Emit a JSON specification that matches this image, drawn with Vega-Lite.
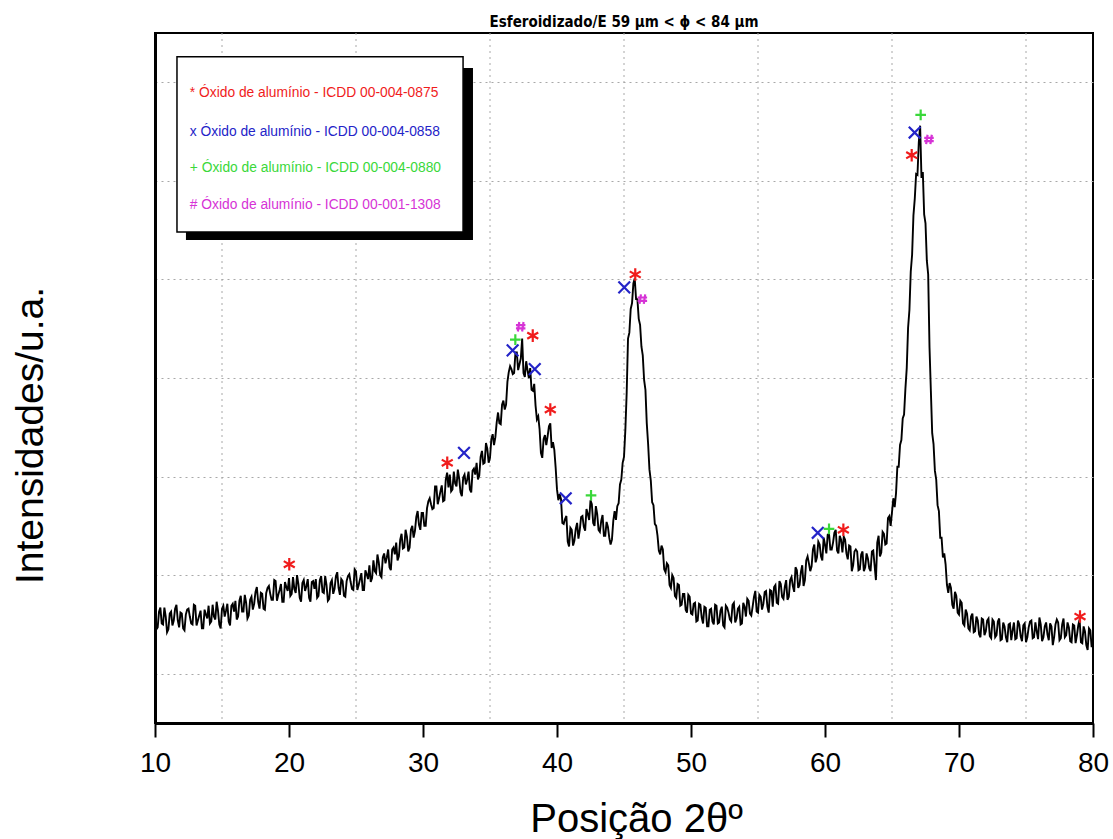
{
  "$schema": "https://vega.github.io/schema/vega-lite/v6.json",
  "width": 938,
  "height": 690,
  "autosize": {"type": "none"},
  "padding": {"left": 155, "top": 33, "right": 20, "bottom": 116},
  "background": "white",
  "config": {
    "view": {"stroke": "black", "strokeWidth": 2},
    "font": "Liberation Sans"
  },
  "title": {
    "text": "Esferoidizado/E 59 µm < ϕ < 84 µm",
    "fontSize": 15,
    "fontWeight": "bold",
    "font": "Liberation Sans Narrow, Arial Narrow, DejaVu Sans Condensed, sans-serif",
    "color": "black",
    "anchor": "middle",
    "offset": 3
  },
  "datasets": {
    "xgrid": [{"g":15},{"g":25},{"g":35},{"g":45},{"g":55},{"g":65},{"g":75}],
    "xrd": [
      {"x":10.0,"y":164},{"x":10.2,"y":147},{"x":10.4,"y":167},{"x":10.6,"y":150},{"x":10.8,"y":158},{"x":11.0,"y":145},{"x":11.2,"y":163},{"x":11.4,"y":154},{"x":11.6,"y":170},{"x":11.8,"y":147},
      {"x":12.0,"y":161},{"x":12.2,"y":144},{"x":12.4,"y":165},{"x":12.6,"y":158},{"x":12.8,"y":150},{"x":13.0,"y":169},{"x":13.2,"y":154},{"x":13.4,"y":164},{"x":13.6,"y":146},{"x":13.8,"y":160},
      {"x":14.0,"y":169},{"x":14.2,"y":153},{"x":14.4,"y":158},{"x":14.6,"y":173},{"x":14.8,"y":150},{"x":15.0,"y":166},{"x":15.2,"y":158},{"x":15.4,"y":171},{"x":15.6,"y":149},{"x":15.8,"y":171},
      {"x":16.0,"y":174},{"x":16.2,"y":158},{"x":16.4,"y":179},{"x":16.6,"y":163},{"x":16.8,"y":172},{"x":17.0,"y":159},{"x":17.2,"y":178},{"x":17.4,"y":171},{"x":17.6,"y":188},{"x":17.8,"y":166},
      {"x":18.0,"y":181},{"x":18.2,"y":165},{"x":18.4,"y":187},{"x":18.6,"y":181},{"x":18.8,"y":175},{"x":19.0,"y":194},{"x":19.2,"y":180},{"x":19.4,"y":191},{"x":19.6,"y":173},{"x":19.8,"y":188},
      {"x":20.0,"y":197},{"x":20.2,"y":181},{"x":20.4,"y":186},{"x":20.6,"y":200},{"x":20.8,"y":177},{"x":21.0,"y":192},{"x":21.2,"y":184},{"x":21.4,"y":196},{"x":21.6,"y":173},{"x":21.8,"y":194},
      {"x":22.0,"y":196},{"x":22.2,"y":179},{"x":22.4,"y":199},{"x":22.6,"y":182},{"x":22.8,"y":190},{"x":23.0,"y":176},{"x":23.2,"y":195},{"x":23.4,"y":186},{"x":23.6,"y":203},{"x":23.8,"y":180},
      {"x":24.0,"y":194},{"x":24.2,"y":178},{"x":24.4,"y":199},{"x":24.6,"y":193},{"x":24.8,"y":185},{"x":25.0,"y":204},{"x":25.2,"y":190},{"x":25.4,"y":202},{"x":25.6,"y":185},{"x":25.8,"y":201},
      {"x":26.0,"y":210},{"x":26.2,"y":197},{"x":26.4,"y":204},{"x":26.6,"y":221},{"x":26.8,"y":200},{"x":27.0,"y":218},{"x":27.2,"y":212},{"x":27.4,"y":226},{"x":27.6,"y":205},{"x":27.8,"y":228},
      {"x":28.0,"y":233},{"x":28.2,"y":219},{"x":28.4,"y":242},{"x":28.6,"y":228},{"x":28.8,"y":239},{"x":29.0,"y":228},{"x":29.2,"y":250},{"x":29.4,"y":245},{"x":29.6,"y":265},{"x":29.8,"y":246},
      {"x":30.0,"y":263},{"x":30.2,"y":250},{"x":30.4,"y":275},{"x":30.6,"y":272},{"x":30.8,"y":268},{"x":31.0,"y":290},{"x":31.2,"y":278},{"x":31.4,"y":291},{"x":31.6,"y":276},{"x":31.8,"y":304},
      {"x":32.0,"y":302},{"x":32.2,"y":287},{"x":32.4,"y":293},{"x":32.6,"y":307},{"x":32.8,"y":284},{"x":33.0,"y":299},{"x":33.2,"y":292},{"x":33.4,"y":305},{"x":33.6,"y":284},{"x":33.8,"y":308},
      {"x":34.0,"y":314},{"x":34.2,"y":301},{"x":34.4,"y":326},{"x":34.6,"y":314},{"x":34.8,"y":328},{"x":35.0,"y":319},{"x":35.2,"y":343},{"x":35.4,"y":340},{"x":35.6,"y":365},{"x":35.8,"y":353},
      {"x":36.0,"y":377},{"x":36.2,"y":373},{"x":36.4,"y":406},{"x":36.6,"y":409},{"x":36.8,"y":405},{"x":37.0,"y":426},{"x":37.2,"y":414},{"x":37.4,"y":440},{"x":37.6,"y":401},{"x":37.8,"y":408},
      {"x":38.0,"y":410},{"x":38.2,"y":387},{"x":38.4,"y":372},{"x":38.6,"y":361},{"x":38.8,"y":324},{"x":39.0,"y":338},{"x":39.2,"y":332},{"x":39.4,"y":351},{"x":39.6,"y":329},{"x":39.8,"y":327},
      {"x":40.0,"y":287},{"x":40.2,"y":282},{"x":40.4,"y":253},{"x":40.6,"y":257},{"x":40.8,"y":234},{"x":41.0,"y":248},{"x":41.2,"y":230},{"x":41.4,"y":247},{"x":41.6,"y":237},{"x":41.8,"y":259},
      {"x":42.0,"y":249},{"x":42.2,"y":267},{"x":42.4,"y":256},{"x":42.6,"y":272},{"x":42.8,"y":250},{"x":43.0,"y":262},{"x":43.2,"y":244},{"x":43.4,"y":261},{"x":43.6,"y":240},{"x":43.8,"y":249},
      {"x":44.0,"y":231},{"x":44.2,"y":255},{"x":44.4,"y":256},{"x":44.5,"y":270},{"x":44.6,"y":273},{"x":44.7,"y":292},{"x":44.8,"y":297},{"x":44.9,"y":314},{"x":45.0,"y":320},{"x":45.1,"y":347},
      {"x":45.2,"y":385},{"x":45.3,"y":440},{"x":45.4,"y":446},{"x":45.5,"y":470},{"x":45.6,"y":476},{"x":45.7,"y":496},{"x":45.8,"y":501},{"x":45.9,"y":480},{"x":46.0,"y":480},{"x":46.1,"y":460},
      {"x":46.2,"y":454},{"x":46.3,"y":432},{"x":46.4,"y":423},{"x":46.5,"y":398},{"x":46.6,"y":388},{"x":46.7,"y":354},{"x":46.8,"y":333},{"x":46.9,"y":307},{"x":47.0,"y":296},{"x":47.1,"y":274},
      {"x":47.2,"y":271},{"x":47.3,"y":252},{"x":47.4,"y":250},{"x":47.6,"y":225},{"x":47.8,"y":230},{"x":48.0,"y":206},{"x":48.2,"y":212},{"x":48.4,"y":190},{"x":48.6,"y":200},{"x":48.8,"y":179},
      {"x":49.0,"y":191},{"x":49.2,"y":169},{"x":49.4,"y":181},{"x":49.6,"y":165},{"x":49.8,"y":180},{"x":50.0,"y":161},{"x":50.2,"y":171},{"x":50.4,"y":153},{"x":50.6,"y":171},{"x":50.8,"y":157},
      {"x":51.0,"y":168},{"x":51.2,"y":148},{"x":51.4,"y":165},{"x":51.6,"y":153},{"x":51.8,"y":170},{"x":52.0,"y":151},{"x":52.2,"y":164},{"x":52.4,"y":149},{"x":52.6,"y":169},{"x":52.8,"y":162},
      {"x":53.0,"y":153},{"x":53.2,"y":172},{"x":53.4,"y":156},{"x":53.6,"y":168},{"x":53.8,"y":151},{"x":54.0,"y":168},{"x":54.2,"y":176},{"x":54.4,"y":161},{"x":54.6,"y":168},{"x":54.8,"y":184},
      {"x":55.0,"y":162},{"x":55.2,"y":178},{"x":55.4,"y":171},{"x":55.6,"y":184},{"x":55.8,"y":162},{"x":56.0,"y":184},{"x":56.2,"y":188},{"x":56.4,"y":172},{"x":56.6,"y":194},{"x":56.8,"y":178},
      {"x":57.0,"y":188},{"x":57.2,"y":175},{"x":57.4,"y":195},{"x":57.6,"y":189},{"x":57.8,"y":208},{"x":58.0,"y":187},{"x":58.2,"y":203},{"x":58.4,"y":189},{"x":58.6,"y":215},{"x":58.8,"y":212},
      {"x":59.0,"y":209},{"x":59.2,"y":231},{"x":59.4,"y":218},{"x":59.6,"y":231},{"x":59.8,"y":215},{"x":60.0,"y":231},{"x":60.2,"y":241},{"x":60.4,"y":226},{"x":60.6,"y":233},{"x":60.8,"y":246},
      {"x":61.0,"y":222},{"x":61.2,"y":236},{"x":61.4,"y":239},{"x":61.6,"y":222},{"x":61.8,"y":230},{"x":62.0,"y":204},{"x":62.2,"y":224},{"x":62.4,"y":224},{"x":62.6,"y":206},{"x":62.8,"y":224},
      {"x":63.0,"y":208},{"x":63.2,"y":217},{"x":63.4,"y":204},{"x":63.6,"y":225},{"x":63.8,"y":195},{"x":64.0,"y":240},{"x":64.2,"y":223},{"x":64.4,"y":242},{"x":64.6,"y":232},{"x":64.8,"y":260},
      {"x":65.0,"y":264},{"x":65.2,"y":269},{"x":65.4,"y":310},{"x":65.5,"y":310},{"x":65.6,"y":332},{"x":65.7,"y":337},{"x":65.8,"y":359},{"x":65.9,"y":363},{"x":66.0,"y":389},{"x":66.1,"y":410},
      {"x":66.2,"y":451},{"x":66.3,"y":469},{"x":66.4,"y":508},{"x":66.5,"y":525},{"x":66.6,"y":565},{"x":66.7,"y":582},{"x":66.8,"y":607},{"x":66.9,"y":606},{"x":67.0,"y":639},{"x":67.1,"y":656},
      {"x":67.2,"y":603},{"x":67.3,"y":609},{"x":67.4,"y":566},{"x":67.5,"y":557},{"x":67.6,"y":519},{"x":67.7,"y":505},{"x":67.8,"y":431},{"x":67.9,"y":387},{"x":68.0,"y":344},{"x":68.1,"y":333},
      {"x":68.2,"y":306},{"x":68.3,"y":297},{"x":68.4,"y":271},{"x":68.5,"y":265},{"x":68.6,"y":238},{"x":68.7,"y":238},{"x":68.8,"y":218},{"x":69.0,"y":211},{"x":69.2,"y":182},{"x":69.4,"y":187},
      {"x":69.6,"y":166},{"x":69.8,"y":179},{"x":70.0,"y":160},{"x":70.2,"y":172},{"x":70.4,"y":149},{"x":70.6,"y":161},{"x":70.8,"y":144},{"x":71.0,"y":161},{"x":71.2,"y":143},{"x":71.4,"y":154},
      {"x":71.6,"y":137},{"x":71.8,"y":155},{"x":72.0,"y":143},{"x":72.2,"y":156},{"x":72.4,"y":136},{"x":72.6,"y":153},{"x":72.8,"y":139},{"x":73.0,"y":156},{"x":73.2,"y":135},{"x":73.4,"y":148},
      {"x":73.6,"y":132},{"x":73.8,"y":151},{"x":74.0,"y":144},{"x":74.2,"y":135},{"x":74.4,"y":154},{"x":74.6,"y":138},{"x":74.8,"y":149},{"x":75.0,"y":132},{"x":75.2,"y":147},{"x":75.4,"y":154},
      {"x":75.6,"y":137},{"x":75.8,"y":143},{"x":76.0,"y":157},{"x":76.2,"y":133},{"x":76.4,"y":148},{"x":76.6,"y":140},{"x":76.8,"y":151},{"x":77.0,"y":129},{"x":77.2,"y":150},{"x":77.4,"y":152},
      {"x":77.6,"y":136},{"x":77.8,"y":156},{"x":78.0,"y":139},{"x":78.2,"y":147},{"x":78.4,"y":132},{"x":78.6,"y":149},{"x":78.8,"y":139},{"x":79.0,"y":155},{"x":79.2,"y":131},{"x":79.4,"y":143},
      {"x":79.6,"y":124},{"x":79.8,"y":144},{"x":80.0,"y":135},
      {"x":10.1,"y":145},{"x":10.3,"y":163},{"x":10.5,"y":151},{"x":10.7,"y":167},{"x":10.9,"y":142},{"x":11.1,"y":161},{"x":11.3,"y":149},{"x":11.5,"y":166},{"x":11.7,"y":154},{"x":11.9,"y":162},
      {"x":12.1,"y":146},{"x":12.3,"y":160},{"x":12.5,"y":166},{"x":12.7,"y":151},{"x":12.9,"y":170},{"x":13.1,"y":149},{"x":13.3,"y":159},{"x":13.5,"y":146},{"x":13.7,"y":165},{"x":13.9,"y":156},
      {"x":14.1,"y":151},{"x":14.3,"y":170},{"x":14.5,"y":155},{"x":14.7,"y":164},{"x":14.9,"y":146},{"x":15.1,"y":169},{"x":15.3,"y":164},{"x":15.5,"y":153},{"x":15.7,"y":169},{"x":15.9,"y":163},
      {"x":16.1,"y":155},{"x":16.3,"y":174},{"x":16.5,"y":163},{"x":16.7,"y":180},{"x":16.9,"y":156},{"x":17.1,"y":175},{"x":17.3,"y":165},{"x":17.5,"y":183},{"x":17.7,"y":173},{"x":17.9,"y":182},
      {"x":18.1,"y":166},{"x":18.3,"y":182},{"x":18.5,"y":189},{"x":18.7,"y":175},{"x":18.9,"y":195},{"x":19.1,"y":174},{"x":19.3,"y":185},{"x":19.5,"y":173},{"x":19.7,"y":193},{"x":19.9,"y":184},
      {"x":20.1,"y":179},{"x":20.3,"y":198},{"x":20.5,"y":182},{"x":20.7,"y":191},{"x":20.9,"y":173},{"x":21.1,"y":195},{"x":21.3,"y":189},{"x":21.5,"y":177},{"x":21.7,"y":193},{"x":21.9,"y":186},
      {"x":22.1,"y":177},{"x":22.3,"y":195},{"x":22.5,"y":183},{"x":22.7,"y":199},{"x":22.9,"y":174},{"x":23.1,"y":192},{"x":23.3,"y":181},{"x":23.5,"y":199},{"x":23.7,"y":187},{"x":23.9,"y":196},
      {"x":24.1,"y":179},{"x":24.3,"y":194},{"x":24.5,"y":201},{"x":24.7,"y":186},{"x":24.9,"y":206},{"x":25.1,"y":185},{"x":25.3,"y":196},{"x":25.5,"y":185},{"x":25.7,"y":205},{"x":25.9,"y":196},
      {"x":26.1,"y":193},{"x":26.3,"y":215},{"x":26.5,"y":202},{"x":26.7,"y":213},{"x":26.9,"y":198},{"x":27.1,"y":222},{"x":27.3,"y":218},{"x":27.5,"y":208},{"x":27.7,"y":226},{"x":27.9,"y":221},
      {"x":28.1,"y":215},{"x":28.3,"y":236},{"x":28.5,"y":227},{"x":28.7,"y":246},{"x":28.9,"y":224},{"x":29.1,"y":246},{"x":29.3,"y":238},{"x":29.5,"y":259},{"x":29.7,"y":251},{"x":29.9,"y":263},
      {"x":30.1,"y":250},{"x":30.3,"y":268},{"x":30.5,"y":278},{"x":30.7,"y":267},{"x":30.9,"y":290},{"x":31.1,"y":272},{"x":31.3,"y":285},{"x":31.5,"y":275},{"x":31.7,"y":297},{"x":31.9,"y":289},
      {"x":32.1,"y":285},{"x":32.3,"y":305},{"x":32.5,"y":290},{"x":32.7,"y":298},{"x":32.9,"y":280},{"x":33.1,"y":302},{"x":33.3,"y":297},{"x":33.5,"y":287},{"x":33.7,"y":306},{"x":33.9,"y":302},
      {"x":34.1,"y":297},{"x":34.3,"y":320},{"x":34.5,"y":313},{"x":34.7,"y":334},{"x":34.9,"y":314},{"x":35.1,"y":338},{"x":35.3,"y":332},{"x":35.5,"y":355},{"x":35.7,"y":354},{"x":35.9,"y":373},
      {"x":36.1,"y":368},{"x":36.3,"y":396},{"x":36.5,"y":412},{"x":36.7,"y":404},{"x":36.9,"y":426},{"x":37.1,"y":408},{"x":37.3,"y":420},{"x":37.5,"y":405},{"x":37.7,"y":417},{"x":37.9,"y":400},
      {"x":38.1,"y":388},{"x":38.3,"y":394},{"x":38.5,"y":358},{"x":38.7,"y":348},{"x":38.9,"y":319},{"x":39.1,"y":342},{"x":39.3,"y":341},{"x":39.5,"y":354},{"x":39.7,"y":335},{"x":39.9,"y":309},
      {"x":40.1,"y":276},{"x":40.3,"y":277},{"x":40.5,"y":252},{"x":40.7,"y":260},{"x":40.9,"y":229},{"x":41.1,"y":246},{"x":41.3,"y":235},{"x":41.5,"y":253},{"x":41.7,"y":246},{"x":41.9,"y":260},
      {"x":42.1,"y":245},{"x":42.3,"y":262},{"x":42.5,"y":276},{"x":42.7,"y":253},{"x":42.9,"y":270},{"x":43.1,"y":246},{"x":43.3,"y":255},{"x":43.5,"y":240},{"x":43.7,"y":254},{"x":43.9,"y":238},
      {"x":44.1,"y":236},{"x":44.3,"y":265},
      {"x":47.5,"y":240},{"x":47.7,"y":221},{"x":47.9,"y":226},{"x":48.1,"y":203},{"x":48.3,"y":210},{"x":48.5,"y":187},{"x":48.7,"y":197},{"x":48.9,"y":177},
      {"x":49.1,"y":190},{"x":49.3,"y":170},{"x":49.5,"y":181},{"x":49.7,"y":162},{"x":49.9,"y":178},{"x":50.1,"y":160},{"x":50.3,"y":172},{"x":50.5,"y":154},{"x":50.7,"y":170},{"x":50.9,"y":151},
      {"x":51.1,"y":167},{"x":51.3,"y":148},{"x":51.5,"y":166},{"x":51.7,"y":150},{"x":51.9,"y":169},{"x":52.1,"y":152},{"x":52.3,"y":168},{"x":52.5,"y":147},{"x":52.7,"y":167},{"x":52.9,"y":155},
      {"x":53.1,"y":170},{"x":53.3,"y":152},{"x":53.5,"y":166},{"x":53.7,"y":150},{"x":53.9,"y":172},{"x":54.1,"y":158},{"x":54.3,"y":174},{"x":54.5,"y":159},{"x":54.7,"y":178},{"x":54.9,"y":163},
      {"x":55.1,"y":180},{"x":55.3,"y":165},{"x":55.5,"y":183},{"x":55.7,"y":168},{"x":55.9,"y":185},{"x":56.1,"y":168},{"x":56.3,"y":190},{"x":56.5,"y":171},{"x":56.7,"y":191},{"x":56.9,"y":176},
      {"x":57.1,"y":195},{"x":57.3,"y":178},{"x":57.5,"y":198},{"x":57.7,"y":183},{"x":57.9,"y":205},{"x":58.1,"y":190},{"x":58.3,"y":210},{"x":58.5,"y":195},{"x":58.7,"y":219},{"x":58.9,"y":204},
      {"x":59.1,"y":226},{"x":59.3,"y":213},{"x":59.5,"y":234},{"x":59.7,"y":219},{"x":59.9,"y":238},{"x":60.1,"y":222},{"x":60.3,"y":242},{"x":60.5,"y":226},{"x":60.7,"y":243},{"x":60.9,"y":225},
      {"x":61.1,"y":240},{"x":61.3,"y":223},{"x":61.5,"y":236},{"x":61.7,"y":216},{"x":61.9,"y":229},{"x":62.1,"y":210},{"x":62.3,"y":226},{"x":62.5,"y":205},{"x":62.7,"y":221},{"x":62.9,"y":204},
      {"x":63.1,"y":222},{"x":63.3,"y":207},{"x":63.5,"y":224},{"x":63.7,"y":210},{"x":63.9,"y":233},{"x":64.1,"y":219},{"x":64.3,"y":244},{"x":64.5,"y":231},{"x":64.7,"y":258},{"x":64.9,"y":250},
      {"x":65.1,"y":278},{"x":65.3,"y":283},
      {"x":68.9,"y":222},{"x":69.1,"y":190},{"x":69.3,"y":192},{"x":69.5,"y":170},{"x":69.7,"y":183},{"x":69.9,"y":162},
      {"x":70.1,"y":174},{"x":70.3,"y":151},{"x":70.5,"y":165},{"x":70.7,"y":146},{"x":70.9,"y":158},{"x":71.1,"y":142},{"x":71.3,"y":158},{"x":71.5,"y":140},{"x":71.7,"y":156},{"x":71.9,"y":139},
      {"x":72.1,"y":154},{"x":72.3,"y":138},{"x":72.5,"y":155},{"x":72.7,"y":137},{"x":72.9,"y":153},{"x":73.1,"y":134},{"x":73.3,"y":152},{"x":73.5,"y":137},{"x":73.7,"y":150},{"x":73.9,"y":134},
      {"x":74.1,"y":152},{"x":74.3,"y":136},{"x":74.5,"y":150},{"x":74.7,"y":133},{"x":74.9,"y":151},{"x":75.1,"y":137},{"x":75.3,"y":153},{"x":75.5,"y":136},{"x":75.7,"y":152},{"x":75.9,"y":135},
      {"x":76.1,"y":150},{"x":76.3,"y":137},{"x":76.5,"y":152},{"x":76.7,"y":134},{"x":76.9,"y":148},{"x":77.1,"y":137},{"x":77.3,"y":155},{"x":77.5,"y":134},{"x":77.7,"y":150},{"x":77.9,"y":137},
      {"x":78.1,"y":152},{"x":78.3,"y":133},{"x":78.5,"y":150},{"x":78.7,"y":131},{"x":78.9,"y":149},{"x":79.1,"y":132},{"x":79.3,"y":148},{"x":79.5,"y":129},{"x":79.7,"y":146},{"x":79.9,"y":127}
    ],
    "peaks": [
      {"x":20.02,"y":211,"ref":"0875"},{"x":31.81,"y":314,"ref":"0875"},{"x":38.19,"y":443,"ref":"0875"},{"x":39.5,"y":368,"ref":"0875"},
      {"x":45.84,"y":505,"ref":"0875"},{"x":61.37,"y":246,"ref":"0875"},{"x":66.47,"y":626,"ref":"0875"},{"x":79.03,"y":158,"ref":"0875"},
      {"x":33.06,"y":324,"ref":"0858"},{"x":36.69,"y":428,"ref":"0858"},{"x":38.34,"y":409,"ref":"0858"},{"x":40.65,"y":278,"ref":"0858"},
      {"x":45.02,"y":492,"ref":"0858"},{"x":59.46,"y":243,"ref":"0858"},{"x":66.69,"y":649,"ref":"0858"},
      {"x":36.89,"y":439,"ref":"0880"},{"x":42.54,"y":281,"ref":"0880"},{"x":60.3,"y":247,"ref":"0880"},{"x":67.14,"y":667,"ref":"0880"},
      {"x":37.29,"y":452,"ref":"1308"},{"x":46.37,"y":480,"ref":"1308"},{"x":67.76,"y":642,"ref":"1308"}
    ],
    "legendText": [
      {"x":12.6,"y":689,"ref":"0875","label":"* Óxido de alumínio - ICDD 00-004-0875"},
      {"x":12.6,"y":650,"ref":"0858","label":"x Óxido de alumínio - ICDD 00-004-0858"},
      {"x":12.6,"y":613,"ref":"0880","label":"+ Óxido de alumínio - ICDD 00-004-0880"},
      {"x":12.6,"y":576,"ref":"1308","label":"# Óxido de alumínio - ICDD 00-001-1308"}
    ],
    "box": [
      {"x1":11.64,"x2":32.99,"y1":548,"y2":726,"sx1":12.31,"sx2":33.73,"sy1":540,"sy2":714.5}
    ]
  },
  "layer": [
    {
      "data": {"name": "xgrid"},
      "mark": {"type": "rule", "color": "#a8a8a8", "strokeWidth": 1, "strokeDash": [2, 4]},
      "encoding": {
        "x": {"field": "g", "type": "quantitative", "scale": {"domain": [10, 80], "nice": false, "zero": false}}
      }
    },
    {
      "data": {"name": "box"},
      "mark": {"type": "rect", "fill": "black"},
      "encoding": {
        "x": {"field": "sx1", "type": "quantitative", "scale": {"domain": [10, 80], "nice": false, "zero": false}},
        "x2": {"field": "sx2"},
        "y": {"field": "sy1", "type": "quantitative", "scale": {"domain": [50, 750], "nice": false, "zero": false}},
        "y2": {"field": "sy2"}
      }
    },
    {
      "data": {"name": "box"},
      "mark": {"type": "rect", "fill": "white", "stroke": "black", "strokeWidth": 1.5},
      "encoding": {
        "x": {"field": "x1", "type": "quantitative", "scale": {"domain": [10, 80], "nice": false, "zero": false}},
        "x2": {"field": "x2"},
        "y": {"field": "y1", "type": "quantitative", "scale": {"domain": [50, 750], "nice": false, "zero": false}},
        "y2": {"field": "y2"}
      }
    },
    {
      "data": {"name": "xrd"},
      "mark": {"type": "line", "color": "black", "strokeWidth": 1.9},
      "encoding": {
        "x": {"field": "x", "type": "quantitative",
          "scale": {"domain": [10, 80], "nice": false, "zero": false},
          "axis": {"orient": "bottom", "values": [10, 20, 30, 40, 50, 60, 70, 80], "grid": false, "labelFlush": false, "tickSize": 14, "tickWidth": 2, "tickColor": "black", "domainWidth": 3, "domainColor": "black", "labelFontSize": 28, "labelColor": "black", "labelPadding": 12, "labelFont": "Liberation Sans", "title": "Posição 2θº", "titleFontSize": 40, "titleFontWeight": "normal", "titleColor": "black", "titlePadding": 22, "titleX": 481, "titleFont": "Liberation Sans"}},
        "y": {"field": "y", "type": "quantitative",
          "scale": {"domain": [50, 750], "nice": false, "zero": false},
          "axis": {"values": [100, 200, 300, 400, 500, 600, 700], "grid": true, "gridDash": [2, 4], "gridColor": "#a8a8a8", "gridWidth": 1, "labels": false, "ticks": false, "domainWidth": 3, "domainColor": "black", "title": "Intensidades/u.a.", "titleFontSize": 39, "titleFontWeight": "normal", "titleColor": "black", "titlePadding": 105, "titleY": 402, "titleFont": "Liberation Sans"}}
      }
    },
    {
      "data": {"name": "peaks"},
      "mark": {"type": "point", "filled": false, "strokeWidth": 2.2, "opacity": 1},
      "encoding": {
        "x": {"field": "x", "type": "quantitative", "scale": {"domain": [10, 80], "nice": false, "zero": false}},
        "y": {"field": "y", "type": "quantitative", "scale": {"domain": [50, 750], "nice": false, "zero": false}},
        "color": {"field": "ref", "type": "nominal", "legend": null,
          "scale": {"domain": ["0875", "0858", "0880", "1308"], "range": ["#f01c1c", "#2424c8", "#3ad83a", "#d633d6"]}},
        "shape": {"field": "ref", "type": "nominal", "legend": null,
          "scale": {"domain": ["0875", "0858", "0880", "1308"], "range": ["M0,-1L0,1M-0.87,-0.5L0.87,0.5M-0.87,0.5L0.87,-0.5", "M-1,-1L1,1M-1,1L1,-1", "M-1,0L1,0M0,-1L0,1", "M-0.3,-1L-0.6,1M0.6,-1L0.3,1M-1,-0.35L1,-0.35M-1,0.35L1,0.35"]}},
        "size": {"field": "ref", "type": "nominal", "legend": null,
          "scale": {"domain": ["0875", "0858", "0880", "1308"], "range": [160, 90, 70, 200]}}
      }
    },
    {
      "data": {"name": "legendText"},
      "mark": {"type": "text", "align": "left", "baseline": "middle", "fontSize": 13.8, "font": "Liberation Sans"},
      "encoding": {
        "x": {"field": "x", "type": "quantitative", "scale": {"domain": [10, 80], "nice": false, "zero": false}},
        "y": {"field": "y", "type": "quantitative", "scale": {"domain": [50, 750], "nice": false, "zero": false}},
        "text": {"field": "label"},
        "color": {"field": "ref", "type": "nominal", "legend": null,
          "scale": {"domain": ["0875", "0858", "0880", "1308"], "range": ["#f01c1c", "#2424c8", "#3ad83a", "#d633d6"]}}
      }
    }
  ]
}
